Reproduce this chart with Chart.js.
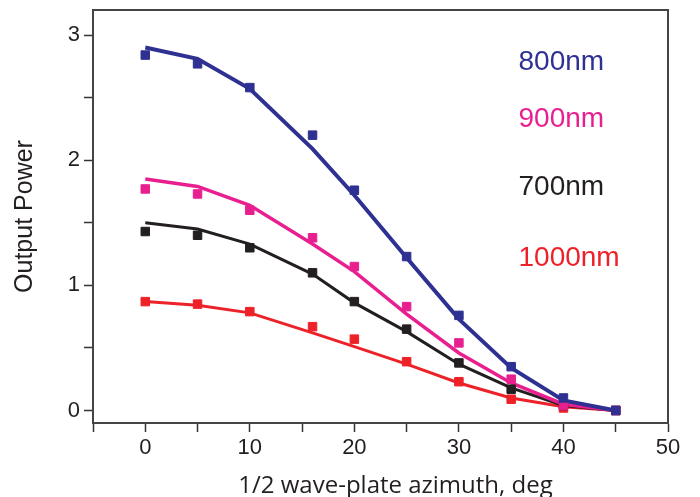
<!DOCTYPE html>
<html>
<head>
<meta charset="utf-8">
<script src="https://cdn.jsdelivr.net/npm/chart.js@4.4.0/dist/chart.umd.min.js"></script>
<style>
  html, body { margin: 0; padding: 0; background: #fff; }
  #wrap { width: 700px; height: 497px; position: relative; }
</style>
</head>
<body>
<div id="wrap"><canvas id="myChart"></canvas></div>
<script>
const azimuth = [0, 5, 10, 16, 20, 25, 30, 35, 40, 45];

const nm800Points = [2.84, 2.77, 2.58, 2.20, 1.76, 1.23, 0.76, 0.35, 0.10, 0.00];
const nm800Fit    = [2.90, 2.81, 2.57, 2.09, 1.72, 1.22, 0.73, 0.34, 0.08, 0.00];
const nm900Points = [1.77, 1.73, 1.60, 1.38, 1.15, 0.83, 0.54, 0.25, 0.04, 0.00];
const nm900Fit    = [1.85, 1.79, 1.64, 1.33, 1.11, 0.77, 0.46, 0.22, 0.05, 0.00];
const nm700Points = [1.43, 1.40, 1.30, 1.10, 0.87, 0.65, 0.38, 0.17, 0.04, 0.00];
const nm700Fit    = [1.50, 1.45, 1.33, 1.09, 0.86, 0.63, 0.37, 0.18, 0.04, 0.00];
const nm1000Points = [0.87, 0.85, 0.79, 0.67, 0.57, 0.39, 0.23, 0.09, 0.02, 0.00];
const nm1000Fit    = [0.87, 0.84, 0.78, 0.62, 0.51, 0.37, 0.22, 0.10, 0.03, 0.00];

const seriesNames = ['800nm', '900nm', '700nm', '1000nm'];
const xTitle = '1/2 wave-plate azimuth, deg';

let blue = '#2e3192';
let pink = '#e8208f';
let black = '#231f20';
let red = '#ed2229';

// where the wavelength captions sit, in data units
const captionSpots = [
  { x: 35.7, y: 2.78 },
  { x: 35.7, y: 2.33 },
  { x: 35.7, y: 1.78 },
  { x: 35.7, y: 1.22 }
];
const captionColors = [blue, pink, black, red];

function pairs(ys) {
  return azimuth.map((x, i) => ({ x: x, y: ys[i] }));
}

function fitLine(ys, color, w) {
  return {
    type: 'line',
    data: pairs(ys),
    borderColor: color,
    borderWidth: w,
    pointRadius: 0,
    tension: 0,
    fill: false,
    order: 2
  };
}

function dots(ys, color) {
  return {
    type: 'scatter',
    data: pairs(ys),
    backgroundColor: color,
    borderColor: color,
    borderWidth: 1,
    pointStyle: 'rect',
    pointRadius: 6,
    showLine: false,
    order: 1
  };
}

const frame = {
  id: 'frame',
  afterDraw(chart) {
    const a = chart.chartArea;
    const c = chart.ctx;
    c.save();
    c.strokeStyle = '#444';
    c.lineWidth = 2;
    c.strokeRect(a.left, a.top, a.right - a.left, a.bottom - a.top);
    c.restore();
  }
};

const captions = {
  id: 'captions',
  afterDatasetsDraw(chart) {
    const c = chart.ctx;
    const xs = chart.scales.x;
    const ys = chart.scales.y;
    c.save();
    c.font = '28px "Liberation Sans", Arial, sans-serif';
    c.textAlign = 'left';
    c.textBaseline = 'middle';
    for (let i = 0; i < seriesNames.length; i++) {
      c.fillStyle = captionColors[i];
      c.fillText(seriesNames[i], xs.getPixelForValue(captionSpots[i].x), ys.getPixelForValue(captionSpots[i].y));
    }
    // x axis title, sits a bit right of centre like the original
    const a = chart.chartArea;
    c.font = '24px "Open Sans", sans-serif';
    c.textAlign = 'center';
    c.textBaseline = 'alphabetic';
    c.fillStyle = '#231f20';
    c.fillText(xTitle, (a.left + a.right) / 2 + 15, chart.height - 4);
    c.restore();
  }
};

const ctx = document.getElementById('myChart');
const myChart = new Chart(ctx, {
  data: {
    datasets: [
      fitLine(nm800Fit, blue, 4),
      fitLine(nm900Fit, pink, 3.5),
      fitLine(nm700Fit, black, 3),
      fitLine(nm1000Fit, red, 3),
      dots(nm800Points, blue),
      dots(nm900Points, pink),
      dots(nm700Points, black),
      dots(nm1000Points, red)
    ]
  },
  options: {
    responsive: true,
    maintainAspectRatio: false,
    animation: false,
    layout: { padding: { left: 0, right: 32, top: 10, bottom: 0 } },
    scales: {
      x: {
        type: 'linear',
        min: -5,
        max: 50,
        afterFit(scale) { scale.height = 74; },
        grid: {
          drawOnChartArea: false,
          tickLength: 9,
          tickWidth: 1.5,
          tickColor: '#333'
        },
        border: { color: '#333', width: 2 },
        ticks: {
          stepSize: 5,
          autoSkip: false,
          maxRotation: 0,
          padding: 3,
          color: '#231f20',
          font: { size: 22, family: '"Liberation Sans", Arial, sans-serif' },
          callback: v => (v % 10 === 0 ? String(v) : '')
        }
      },
      y: {
        type: 'linear',
        min: -0.1,
        max: 3.2,
        afterFit(scale) {
          scale.width = 93;
          scale.paddingTop = 0;
          scale.paddingBottom = 0;
        },
        grid: {
          drawOnChartArea: false,
          tickLength: 9,
          tickWidth: 1.5,
          tickColor: '#333'
        },
        border: { color: '#333', width: 2 },
        ticks: {
          stepSize: 0.5,
          includeBounds: false,
          autoSkip: false,
          padding: 4,
          color: '#231f20',
          font: { size: 22, family: '"Liberation Sans", Arial, sans-serif' },
          callback: v => (Math.abs(v % 1) < 1e-6 ? String(Math.round(v)) : '')
        },
        title: {
          display: true,
          text: 'Output Power',
          color: '#231f20',
          font: { size: 25, family: '"Liberation Sans", Arial, sans-serif' },
          padding: { top: 10, bottom: 0 }
        }
      }
    },
    plugins: {
      legend: { display: false },
      tooltip: { enabled: false }
    }
  },
  plugins: [frame, captions]
});
</script>
</body>
</html>
